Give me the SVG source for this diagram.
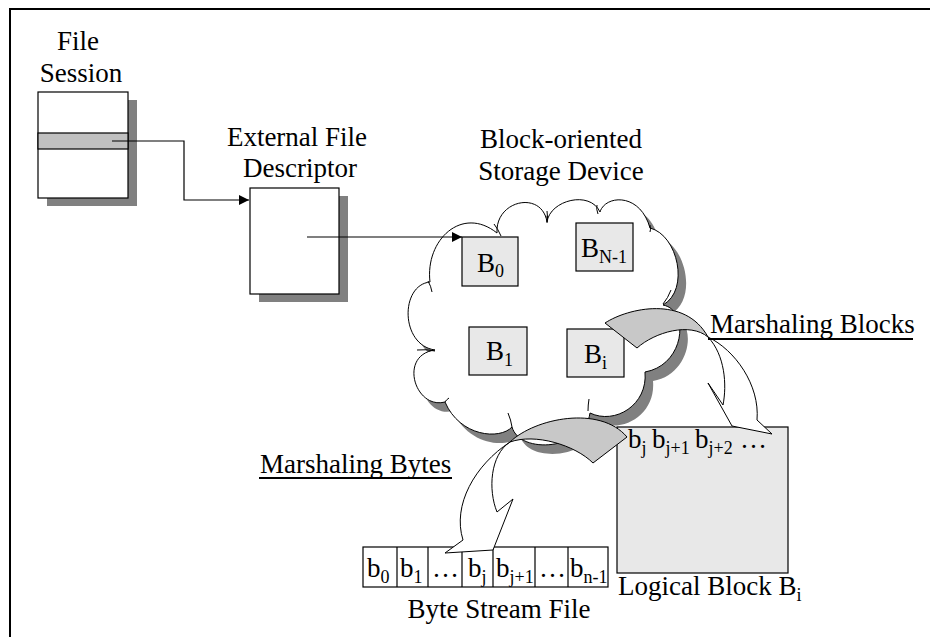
<svg xmlns="http://www.w3.org/2000/svg" width="930" height="637" viewBox="0 0 930 637">
  <style>
    text { font-family: "Liberation Serif", "Times New Roman", serif; font-size: 27px; fill: #000; }
    .sub { font-size: 18px; }
    .box { fill: #fff; stroke: #000; stroke-width: 1.2; }
    .blk { fill: #e8e8e8; stroke: #000; stroke-width: 1.2; }
    .shadow { fill: #808080; stroke: none; }
    .line { fill: none; stroke: #000; stroke-width: 1.2; }
    .band { fill: #c8c8c8; stroke: #000; stroke-width: 1; }
    .shaft { fill: #fff; stroke: #000; stroke-width: 1; }
    .hook { fill: none; stroke: #000; stroke-width: 1; }
    .ul { stroke: #000; stroke-width: 2; }
  </style>
  <defs>
    <marker id="head" markerWidth="11" markerHeight="10" refX="10" refY="5" orient="auto" markerUnits="userSpaceOnUse">
      <path d="M0,0 L10,5 L0,10 Z" fill="#000"/>
    </marker>
    <path id="cloudShape" d="M430,282 C425,240 462,205 497,233 C495,200 542,190 547,222 C550,200 590,190 600,212 C605,195 640,192 650,228 C678,235 690,290 663,305 C690,310 685,365 645,372 C648,405 615,425 590,413 C585,450 520,455 512,427 C500,440 460,437 445,402 C415,410 398,355 435,350 C400,345 400,285 430,282 Z"/>
  </defs>

  <!-- outer frame -->
  <path d="M10,640 V9 H935" fill="none" stroke="#000" stroke-width="2"/>

  <!-- file session table -->
  <g id="file-session">
    <rect class="shadow" x="47" y="100" width="90" height="106"/>
    <rect class="box" x="38" y="92" width="90" height="106"/>
    <rect x="38" y="133" width="90" height="16" fill="#c0c0c0" stroke="#000" stroke-width="1.2"/>
    <text x="78" y="50" text-anchor="middle">File</text>
    <text x="81" y="82" text-anchor="middle">Session</text>
  </g>

  <!-- external file descriptor -->
  <g id="file-descriptor">
    <rect class="shadow" x="259" y="196" width="89" height="106"/>
    <rect class="box" x="250" y="188" width="89" height="106"/>
    <text x="297" y="146" text-anchor="middle">External File</text>
    <text x="300" y="177" text-anchor="middle">Descriptor</text>
  </g>

  <!-- block-oriented storage device (cloud) -->
  <g id="storage-device">
    <use href="#cloudShape" class="shadow" transform="translate(8,9)"/>
    <use href="#cloudShape" fill="#fff" stroke="#000" stroke-width="1"/>
    <path class="hook" d="M428,281 Q431,286 432,292"/>
    <path class="hook" d="M494,224 Q498,229 501,236"/>
    <path class="hook" d="M547,211 Q548,217 547,223"/>
    <path class="hook" d="M597,205 Q596,209 598,214"/>
    <path class="hook" d="M650,225 Q651,230 650,232"/>
    <path class="hook" d="M671,290 Q668,298 663,304"/>
    <path class="hook" d="M417,350 Q426,349 435,351"/>
    <path class="hook" d="M445,402 Q446,400 449,398"/>
    <path class="hook" d="M508,413 Q511,420 512,427"/>
    <path class="hook" d="M589,399 Q588,405 588,411"/>
    <text x="561" y="148" text-anchor="middle">Block-oriented</text>
    <text x="561" y="180" text-anchor="middle">Storage Device</text>
  </g>

  <!-- physical blocks -->
  <g id="block-b0">
    <rect class="blk" x="462" y="237" width="56" height="49"/>
    <text x="477" y="272">B<tspan class="sub" dy="5">0</tspan></text>
  </g>
  <g id="block-bn1">
    <rect class="blk" x="576" y="223" width="57" height="48"/>
    <text x="581" y="257">B<tspan class="sub" dy="6">N-1</tspan></text>
  </g>
  <g id="block-b1">
    <rect class="blk" x="469" y="327" width="58" height="48"/>
    <text x="486" y="360">B<tspan class="sub" dy="6">1</tspan></text>
  </g>
  <g id="block-bi">
    <rect class="blk" x="567" y="329" width="57" height="48"/>
    <text x="584" y="363">B<tspan class="sub" dy="6">i</tspan></text>
  </g>

  <!-- logical block -->
  <g id="logical-block">
    <rect class="blk" x="617" y="427" width="171" height="146"/>
    <text x="628" y="448">b<tspan class="sub" dy="6">j</tspan></text>
    <text x="652" y="448">b<tspan class="sub" dy="6">j+1</tspan></text>
    <text x="695" y="448">b<tspan class="sub" dy="6">j+2</tspan></text>
    <text x="740" y="448">…</text>
    <text x="618" y="595">Logical Block B<tspan class="sub" dy="6">i</tspan></text>
  </g>

  <!-- byte stream file -->
  <g id="byte-stream">
    <rect class="box" x="363" y="547" width="245" height="40"/>
    <path class="line" d="M397,547 V587 M428,547 V587 M462,547 V587 M493,547 V587 M535,547 V587 M568,547 V587"/>
    <text x="367" y="577">b<tspan class="sub" dy="6">0</tspan></text>
    <text x="400" y="577">b<tspan class="sub" dy="6">1</tspan></text>
    <text x="432" y="577">…</text>
    <text x="468" y="577">b<tspan class="sub" dy="6">j</tspan></text>
    <text x="496" y="577">b<tspan class="sub" dy="6">j+1</tspan></text>
    <text x="539" y="577">…</text>
    <text x="570" y="577">b<tspan class="sub" dy="6">n-1</tspan></text>
    <text x="499" y="618" text-anchor="middle">Byte Stream File</text>
  </g>

  <!-- connectors -->
  <g id="connectors">
    <polyline class="line" points="112,141 184,141 184,200 249,200" marker-end="url(#head)"/>
    <line class="line" x1="307" y1="237" x2="462" y2="237" marker-end="url(#head)"/>

    <!-- marshaling blocks: curved block arrow -->
    <path class="band" d="M605,323 C628,308 685,295 708,337 C690,322 655,332 637,348 Z"/>
    <path class="shaft" d="M708,337 C735,350 760,385 757,420 L772,434 L732,426 L708,383 L723,405 C727,385 725,355 708,337 Z"/>

    <!-- marshaling bytes: curved block arrow -->
    <path class="band" d="M510,442 C535,418 600,405 627,437 L593,463 C575,445 535,433 510,442 Z"/>
    <path class="shaft" d="M510,442 C475,465 452,505 463,540 L445,553 L493,550 L513,499 L497,512 C488,490 490,455 510,442 Z"/>
  </g>

  <!-- arrow labels -->
  <g id="labels">
    <text x="710" y="333">Marshaling Blocks</text>
    <line class="ul" x1="708" y1="339" x2="913" y2="339"/>
    <text x="260" y="473">Marshaling Bytes</text>
    <line class="ul" x1="259" y1="478" x2="452" y2="478"/>
  </g>
</svg>
